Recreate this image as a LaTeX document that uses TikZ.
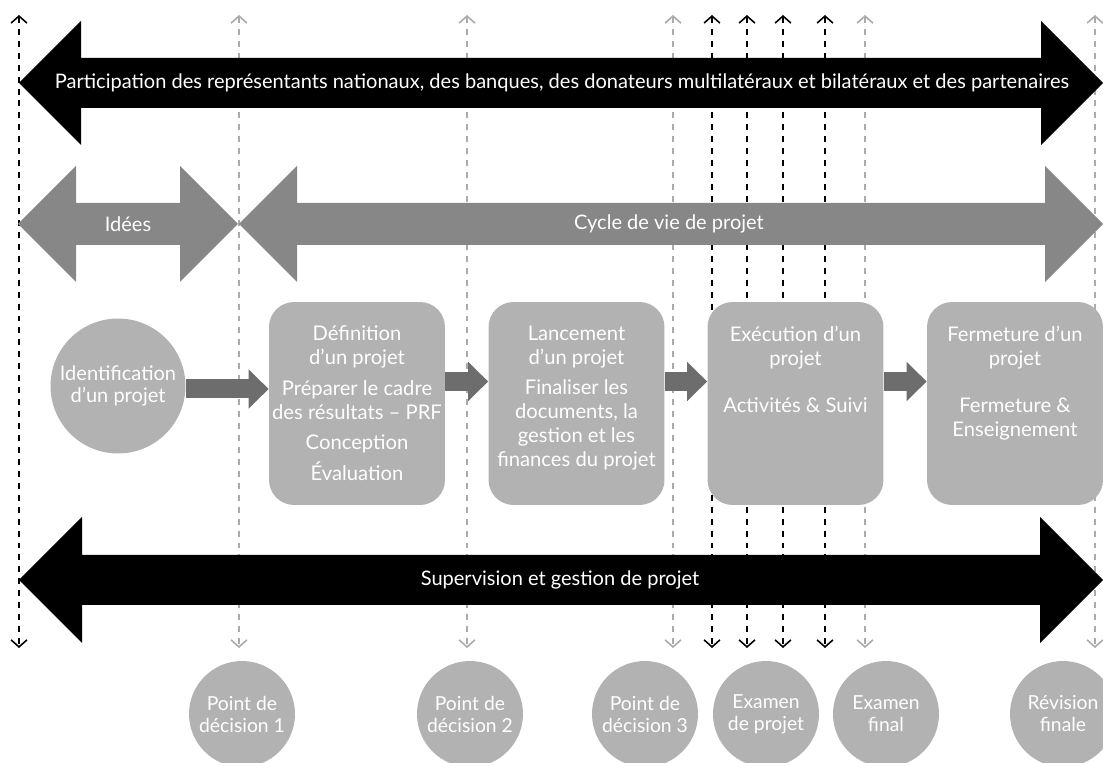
\documentclass[tikz,border=0pt]{standalone}
\usepackage{fontspec}
\setmainfont{Lato}
\usetikzlibrary{arrows.meta,positioning}

\definecolor{bandgray}{HTML}{878787}
\definecolor{boxgray}{HTML}{B2B2B2}
\definecolor{flowgray}{HTML}{6D6D6D}
\definecolor{linegray}{HTML}{ABABAB}

\tikzset{
  milestone/.style={<->, >={Straight Barb[length=4pt,width=9pt]},
    dash pattern=on 3.4pt off 3.4pt, line width=0.9pt},
  bandtext/.style={text=white, inner sep=0pt},
  phase/.style={circle, fill=boxgray, text=white, minimum size=2.7cm,
    inner sep=0pt, align=center},
  procbox/.style={fill=boxgray, rounded corners=0.5cm, minimum width=3.52cm,
    minimum height=4.06cm, inner sep=0pt},
  boxtext/.style={text=white, align=center, inner sep=0pt,
    font=\fontsize{11.5}{13.5}\selectfont},
  review/.style={circle, fill=boxgray, text=white, minimum size=2.12cm,
    inner sep=0pt, align=center, font=\fontsize{11}{12.5}\selectfont},
  flow/.style={flowgray, line width=0.38cm,
    -{Triangle[length=0.4cm, width=0.76cm]}},
}

\begin{document}
\begin{tikzpicture}[x=0.02cm, y=-0.02cm, every node/.style={font=\fontsize{11.4}{13}\selectfont}]
  \useasboundingbox (0,0) rectangle (1103,763);
  \clip (0,0) rectangle (1103,763);

  % Jalons (lignes pointillées)
  \foreach \x in {19,712,747,783,825}
    \draw[milestone, black] (\x,15) -- (\x,648);
  \foreach \x in {239,467,673,865,1095}
    \draw[milestone, linegray] (\x,15) -- (\x,648);

  % Participation (flèche noire du haut)
  \fill[black] (19,83) -- (81,21) -- (81,58) -- (1041,58) -- (1041,21) -- (1103,83)
    -- (1041,145) -- (1041,108) -- (81,108) -- (81,145) -- cycle;
  \node[bandtext] (partic) at (562,83) {Participation des représentants nationaux, des banques, des donateurs multilatéraux et bilatéraux et des partenaires};

  % Idées
  \fill[bandgray] (18,224) -- (76,166) -- (76,203) -- (180,203) -- (180,166) -- (238,224)
    -- (180,282) -- (180,245) -- (76,245) -- (76,282) -- cycle;
  \node[bandtext] (idees) at (128,224) {Idées};

  % Cycle de vie
  \fill[bandgray] (239,224) -- (297,166) -- (297,203) -- (1045,203) -- (1045,166) -- (1103,224)
    -- (1045,282) -- (1045,245) -- (297,245) -- (297,282) -- cycle;
  \node[bandtext] (cycle) at (669,224) {Cycle de vie de projet};

  % Supervision (flèche noire du bas)
  \fill[black] (19,580) -- (82,517) -- (82,555) -- (1040,555) -- (1040,517) -- (1103,580)
    -- (1040,643) -- (1040,605) -- (82,605) -- (82,643) -- cycle;
  \node[bandtext] (superv) at (560,580) {Supervision et gestion de projet};

  % Phases
  \node[phase] (ident) at (118,386) {Identification\\d’un projet};
  \node[procbox] (def) at (357,403.5) {};
  \node[boxtext, below=0.48cm of def.north] (deftxt)
    {Définition\\d’un projet\\[4pt]Préparer le cadre\\des résultats – PRF\\[4pt]Conception\\[4pt]Évaluation};
  \node[procbox] (lanc) at (576.5,403.5) {};
  \node[boxtext, below=0.48cm of lanc.north] (lanctxt)
    {Lancement\\d’un projet\\[4pt]Finaliser les\\documents, la\\gestion et les\\finances du projet};
  \node[procbox] (exec) at (795.5,403.5) {};
  \node[boxtext, below=0.48cm of exec.north] (exectxt)
    {Exécution d’un\\projet\\[13.5pt]Activités \& Suivi};
  \node[procbox] (ferm) at (1015,403.5) {};
  \node[boxtext, below=0.48cm of ferm.north] (fermtxt)
    {Fermeture d’un\\projet\\[13.5pt]Fermeture \&\\Enseignement};

  % Flèches entre phases
  \draw[flow] ([yshift=-0.06cm]ident.east) -- ([yshift=-0.06cm]ident.east -| def.west);
  \draw[flow] ([yshift=0.44cm]def.east) -- ([yshift=0.44cm]lanc.west);
  \draw[flow] ([yshift=0.44cm]lanc.east) -- ([yshift=0.44cm]exec.west);
  \draw[flow] ([yshift=0.44cm]exec.east) -- ([yshift=0.44cm]ferm.west);

  % Points de décision et examens
  \node[review] (pd1) at (242,714) {Point de\\décision 1};
  \node[review] (pd2) at (470,714) {Point de\\décision 2};
  \node[review] (pd3) at (645,714) {Point de\\décision 3};
  \node[review] (exproj) at (766,714) {Examen\\de projet};
  \node[review] (exfin) at (886,714) {Examen\\final};
  \node[review] (revfin) at (1063,714) {Révision\\finale};
\end{tikzpicture}
\end{document}
